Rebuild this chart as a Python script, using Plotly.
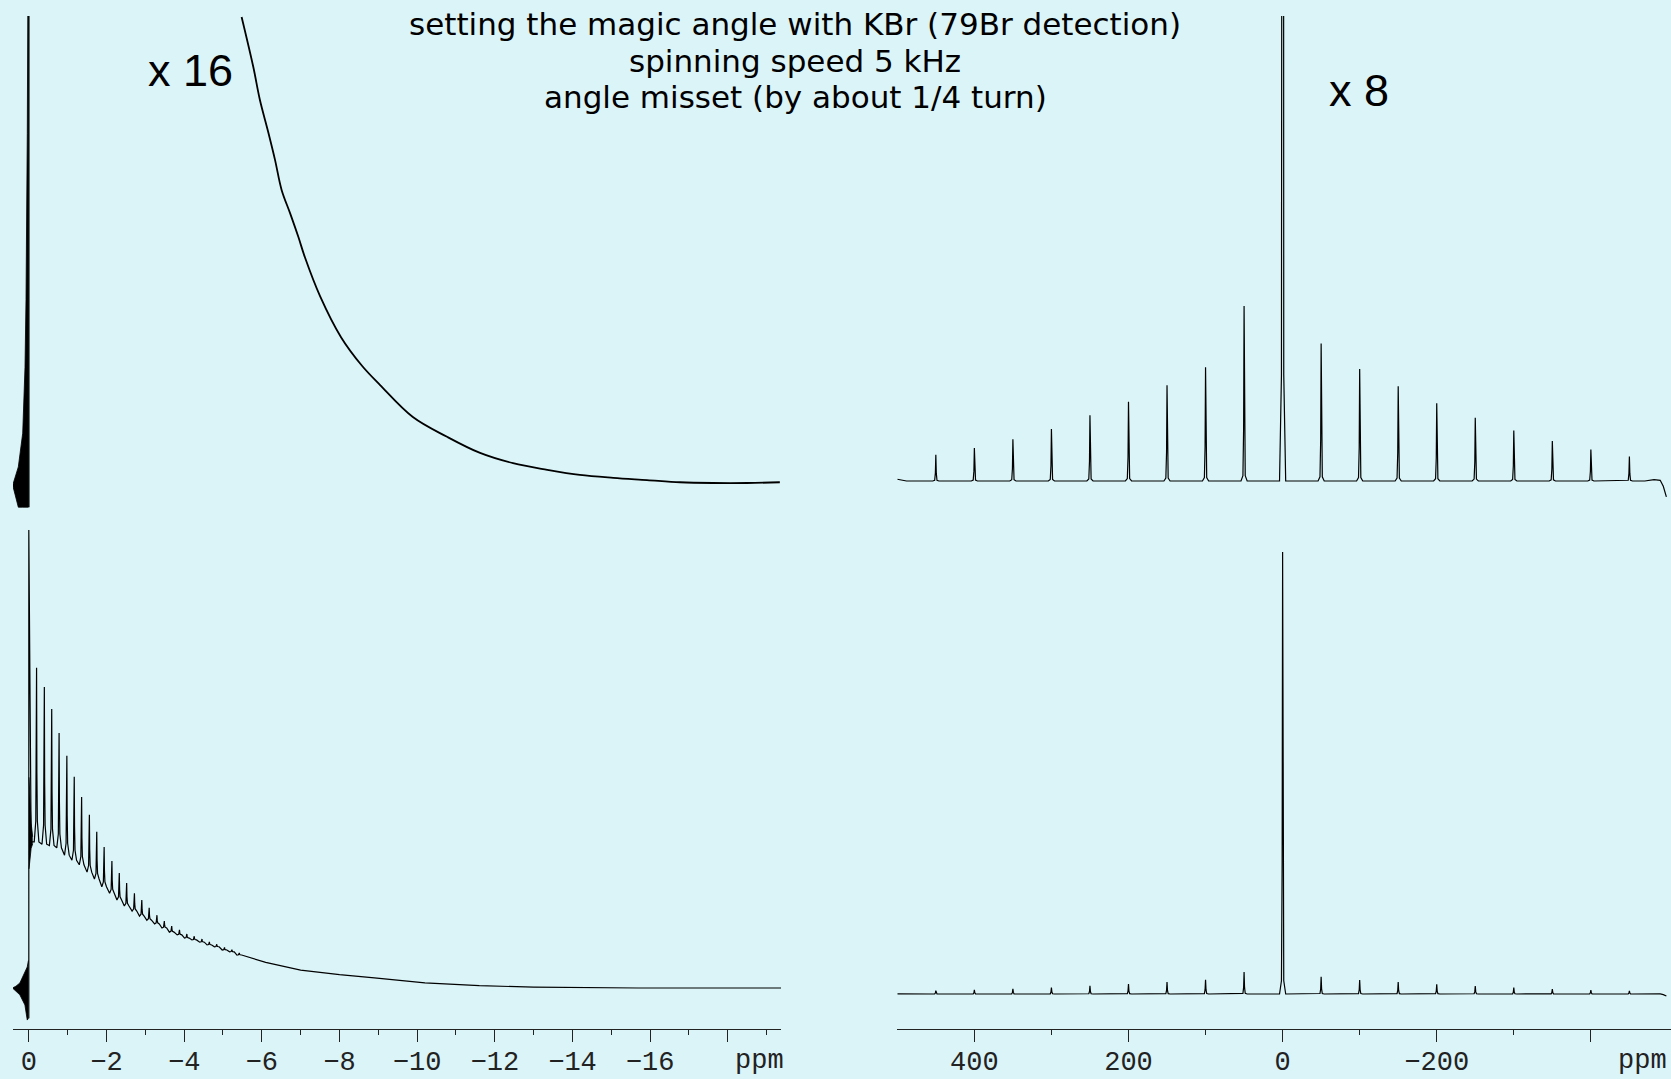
import plotly.graph_objects as go

W, H = 1671, 1079
BG = "#dbf4f8"
INK = "#000000"

# ---------------- spectrum (right panels; the upper one is the same trace x 8) ----------------
SB_PPM = [450, 400, 350, 300, 250, 200, 150, 100, 50, 0,
          -50, -100, -150, -200, -250, -300, -350, -400, -450]
SB_HEIGHT = [0.74, 0.93, 1.18, 1.47, 1.86, 2.24, 2.71, 3.22, 4.95, 100.0,
             3.89, 3.17, 2.68, 2.20, 1.79, 1.43, 1.13, 0.89, 0.69]
SPEC_BASE_PPM = [500, 488, -470, -482, -490, -494, -498]
SPEC_BASE_VAL = [0.05, 0.0, 0.0, 0.04, 0.02, -0.15, -0.45]

# ---------------- time signal (left panels) ----------------
# lower trace: main spike at 0, rotor echoes, then smooth tail
BL_SPIKE = [-6.6, 100.0]
BL_PRE_T = [0.42, 0.33, 0.23, 0.10, 0.04, 0.01]
BL_PRE_HI = [0.0, 0.4, 1.1, 3.3, 4.6, 6.0]
BL_PRE_LO = [0.0, -0.7, -1.5, -3.7, -7.0, -6.6]
BL_POST_T = [-0.005, -0.03, -0.06, -0.10]
BL_POST_HI = [46.0, 40.0, 36.0, 33.0]
BL_POST_LO = [26.0, 28.5, 30.5, 31.5]
BL_ECHO_T = [-0.20, -0.40, -0.59, -0.78, -0.98, -1.17, -1.36, -1.56, -1.75, -1.94,
             -2.14, -2.33, -2.52, -2.72, -2.91, -3.10, -3.30, -3.49, -3.68, -3.88,
             -4.07, -4.26, -4.46, -4.65, -4.84, -5.04, -5.23, -5.42]
BL_ECHO_TOP = [69.9, 65.7, 60.9, 55.7, 50.7, 46.1, 41.7, 37.8, 34.1, 30.8,
               27.7, 25.1, 22.9, 20.7, 19.2, 17.5, 15.9, 14.6, 13.5, 12.7,
               11.8, 11.3, 10.7, 10.05, 9.55, 8.85, 8.35, 7.65]
BL_ECHO_FOOT = [31.9, 31.4, 31.1, 30.6, 29.0, 27.9, 26.9, 25.3, 23.8, 22.1,
                20.7, 19.2, 17.9, 16.8, 15.7, 14.8, 14.0, 13.1, 12.2, 11.6,
                10.9, 10.5, 10.0, 9.4, 9.0, 8.3, 7.9, 7.2]
BL_TAIL_T = [-6.1, -7.0, -8.0, -8.9, -10.2, -11.6, -13.0, -15.7, -19.4]
BL_TAIL_Y = [5.6, 3.9, 2.9, 2.2, 1.1, 0.5, 0.2, 0.0, 0.0]

# upper trace (x 16)
TL_SPIKE = [-0.33, 100.0]
TL_PRE_T = [0.415, 0.27, 0.157, 0.098, 0.072, 0.054, 0.039, 0.013]
TL_PRE_HI = [-0.03, 0.22, 0.68, 1.58, 2.5, 3.41, 4.77, 8.0]
TL_PRE_LO = [-0.03, -0.33, -0.33, -0.33, -0.33, -0.33, -0.33, -0.33]
TL_DECAY_T = [-5.48, -5.78, -5.95, -6.17, -6.34, -6.51, -6.73, -6.94, -7.11, -7.50,
              -8.04, -8.58, -9.04, -9.89, -10.77, -11.62, -12.47, -13.35, -14.19,
              -15.05, -15.92, -16.77, -17.62, -18.50, -19.34]
TL_DECAY_Y = [6.36, 5.68, 5.23, 4.78, 4.41, 4.00, 3.68, 3.36, 3.08, 2.55,
              1.99, 1.60, 1.34, 0.90, 0.63, 0.41, 0.27, 0.18, 0.11,
              0.07, 0.04, 0.01, 0.0, 0.0, 0.01]

LEFT_TICKS = [0, -2, -4, -6, -8, -10, -12, -14, -16, -18]
LEFT_LABELS = ["0", "\u22122", "\u22124", "\u22126", "\u22128", "\u221210",
               "\u221212", "\u221214", "\u221216", ""]
LEFT_MINOR = [-1, -3, -5, -7, -9, -11, -13, -15, -17, -19]
RIGHT_TICKS = [400, 200, 0, -200, -400]
RIGHT_LABELS = ["400", "200", "0", "\u2212200", ""]
RIGHT_MINOR = [300, 100, -100, -300]

TITLE_LINES = ["setting the magic angle with KBr (79Br detection)",
               "spinning speed 5 kHz",
               "angle misset (by about 1/4 turn)"]


# ---------------- helpers ----------------
def spectrum_line(pos, hgt, base_x, base_y):
    """Narrow Lorentzian-like spikes on top of a piecewise baseline."""
    offs = [4.0, 1.5, 0.6, 0.0, -0.6, -1.5, -4.0]
    frac = [0.0, 0.03, 0.3, 1.0, 0.3, 0.03, 0.0]
    pts = list(zip(base_x, base_y))
    for p, h in zip(pos, hgt):
        for o, f in zip(offs, frac):
            pts.append((p + o, h * f))
    pts.sort(key=lambda q: -q[0])
    return [q[0] for q in pts], [q[1] for q in pts]


def echo_line(ts, tops, feet):
    offs = [0.06, 0.02, 0.008, 0.0, -0.008, -0.02, -0.06]
    frac = [0.0, 0.12, 0.4, 1.0, 0.4, 0.12, 0.0]
    xs, ys = [], []
    for t, top, foot in zip(ts, tops, feet):
        for o, f in zip(offs, frac):
            xs.append(t + o)
            ys.append(foot + (top - foot) * f)
    return xs, ys


def px_dom_y(top_px, bot_px):
    return [1 - bot_px / H, 1 - top_px / H]


def y_range(top_px, bot_px, base_px, px_per_unit):
    return [-(bot_px - base_px) / px_per_unit, (base_px - top_px) / px_per_unit]


TOP_PX = (16, 515)
BOT_PX = (520, 1022)
BL_SCALE = 4.58      # px per unit, lower-left
BR_SCALE = 4.42      # px per unit, lower-right

fig = go.Figure()
line = dict(color=INK, width=1.2)


def band(xs, lo, hi, xa, ya):
    fig.add_trace(go.Scatter(x=xs, y=lo, mode="lines", line=dict(color=INK, width=0.8),
                             xaxis=xa, yaxis=ya, showlegend=False, hoverinfo="skip"))
    fig.add_trace(go.Scatter(x=xs, y=hi, mode="lines", line=dict(color=INK, width=0.8),
                             fill="tonexty", fillcolor=INK,
                             xaxis=xa, yaxis=ya, showlegend=False, hoverinfo="skip"))


# ---- lower left ----
band(BL_PRE_T, BL_PRE_LO, BL_PRE_HI, "x", "y")
band(BL_POST_T, BL_POST_LO, BL_POST_HI, "x", "y")
ex, ey = echo_line(BL_ECHO_T, BL_ECHO_TOP, BL_ECHO_FOOT)
bl_x = [0.0, 0.0, -0.06] + ex + BL_TAIL_T
bl_y = BL_SPIKE + [BL_ECHO_FOOT[0]] + ey + BL_TAIL_Y
fig.add_trace(go.Scatter(x=bl_x, y=bl_y, mode="lines", line=line,
                         xaxis="x", yaxis="y", showlegend=False, hoverinfo="skip"))

# ---- upper left (x 16) ----
band(TL_PRE_T, TL_PRE_LO, TL_PRE_HI, "x3", "y3")
fig.add_trace(go.Scatter(x=[0.0, 0.0], y=TL_SPIKE, mode="lines", line=dict(color=INK, width=1.5),
                         xaxis="x3", yaxis="y3", showlegend=False, hoverinfo="skip"))
fig.add_trace(go.Scatter(x=TL_DECAY_T, y=TL_DECAY_Y, mode="lines", line=dict(color=INK, width=1.8),
                         line_shape="spline",
                         xaxis="x3", yaxis="y3", showlegend=False, hoverinfo="skip"))

# ---- right panels ----
sx, sy = spectrum_line(SB_PPM, SB_HEIGHT, SPEC_BASE_PPM, SPEC_BASE_VAL)
fig.add_trace(go.Scatter(x=sx, y=sy, mode="lines", line=line,
                         xaxis="x2", yaxis="y2", showlegend=False, hoverinfo="skip"))
fig.add_trace(go.Scatter(x=sx, y=sy, mode="lines", line=line,
                         xaxis="x4", yaxis="y4", showlegend=False, hoverinfo="skip"))

left_dom = [13 / W, 781 / W]
right_dom = [897.3 / W, 1.0]
left_rng = [0.407, -19.37]
right_rng = [500, -504]
axis_pos = 1 - 1029 / H

tickfont = dict(family="Liberation Mono, Courier New, monospace", size=27, color="#222")


def bottom_xaxis(dom, rng, vals, text, minor_vals):
    return dict(domain=dom, range=rng, anchor="free", position=axis_pos, automargin=False,
                showline=True, linecolor="#222", linewidth=1,
                ticks="outside", ticklen=12, tickwidth=1, tickcolor="#222",
                tickmode="array", tickvals=vals, ticktext=text, tickfont=tickfont,
                ticklabelstandoff=-4,
                minor=dict(tickmode="array", tickvals=minor_vals, ticks="outside",
                           ticklen=5, tickwidth=1, tickcolor="#222"),
                showgrid=False, zeroline=False, fixedrange=True)


def hidden(dom, rng, anchor):
    return dict(domain=dom, range=rng, visible=False, anchor=anchor, automargin=False,
                showgrid=False, zeroline=False, fixedrange=True)


fig.update_layout(
    width=W, height=H, autosize=False,
    margin=dict(l=0, r=0, t=0, b=0, autoexpand=False),
    paper_bgcolor=BG, plot_bgcolor=BG,
    xaxis=bottom_xaxis(left_dom, left_rng, LEFT_TICKS, LEFT_LABELS, LEFT_MINOR),
    xaxis2=bottom_xaxis(right_dom, right_rng, RIGHT_TICKS, RIGHT_LABELS, RIGHT_MINOR),
    xaxis3=hidden(left_dom, left_rng, "y3"),
    xaxis4=hidden(right_dom, right_rng, "y4"),
    yaxis=hidden(px_dom_y(*BOT_PX), y_range(*BOT_PX, 988, BL_SCALE), "x"),
    yaxis2=hidden(px_dom_y(*BOT_PX), y_range(*BOT_PX, 994, BR_SCALE), "x2"),
    yaxis3=hidden(px_dom_y(*TOP_PX), y_range(*TOP_PX, 483, 16 * BL_SCALE), "x3"),
    yaxis4=hidden(px_dom_y(*TOP_PX), y_range(*TOP_PX, 481, 8 * BR_SCALE), "x4"),
)

sans = "Liberation Sans, Arial, sans-serif"
annots = []
for i, txt in enumerate(TITLE_LINES):
    annots.append(dict(text=txt, x=795 / W, y=1 - (24.2 + 36.5 * i) / H, xref="paper", yref="paper",
                       xanchor="center", yanchor="middle", showarrow=False,
                       font=dict(family="DejaVu Sans, sans-serif", size=31, color=INK)))
annots.append(dict(text="x 16", x=190 / W, y=1 - 71 / H, xref="paper", yref="paper",
                   xanchor="center", yanchor="middle", showarrow=False,
                   font=dict(family=sans, size=45, color=INK)))
annots.append(dict(text="x 8", x=1359 / W, y=1 - 91 / H, xref="paper", yref="paper",
                   xanchor="center", yanchor="middle", showarrow=False,
                   font=dict(family=sans, size=45, color=INK)))
for xp in (759, 1642):
    annots.append(dict(text="ppm", x=xp / W, y=1 - 1061 / H, xref="paper", yref="paper",
                       xanchor="center", yanchor="middle", showarrow=False, font=tickfont))
fig.update_layout(annotations=annots)

fig.write_html("out.html")
